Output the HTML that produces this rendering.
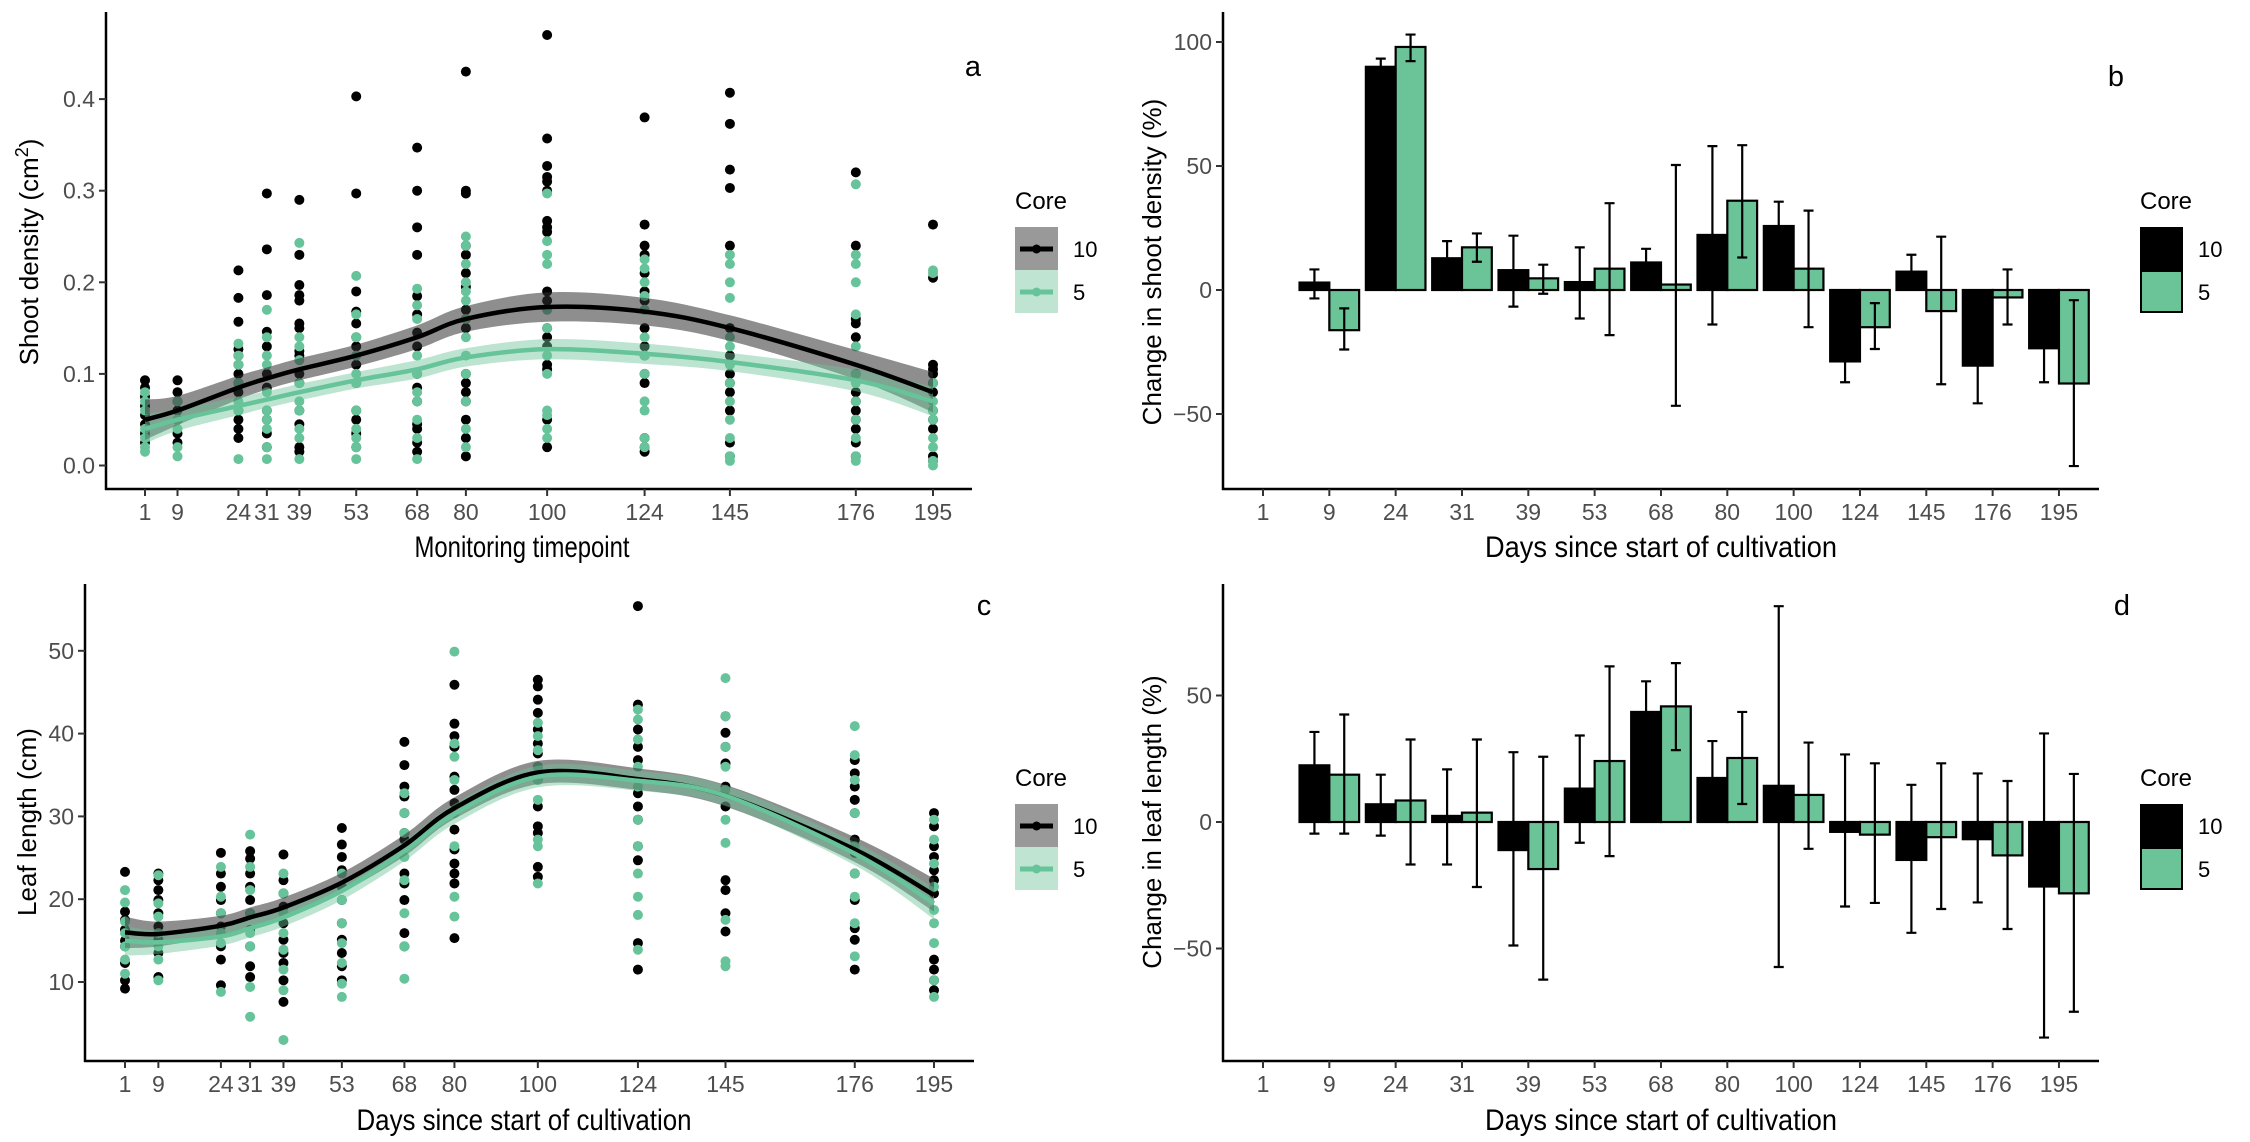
<!DOCTYPE html>
<html><head><meta charset="utf-8">
<style>
html,body{margin:0;padding:0;background:#fff;}
svg{display:block;}
.tick{font-family:"Liberation Sans Narrow","Liberation Sans",sans-serif;font-size:23px;fill:#4d4d4d;}
.title{font-family:"Liberation Sans Narrow","Liberation Sans",sans-serif;font-size:30px;fill:#000;}
.ytitle{font-family:"Liberation Sans",sans-serif;font-size:26px;fill:#000;}
.leg{font-family:"Liberation Sans",sans-serif;font-size:24px;fill:#000;}
.legl{font-family:"Liberation Sans",sans-serif;font-size:22px;fill:#000;}
.plab{font-family:"Liberation Sans",sans-serif;font-size:29px;fill:#000;}
</style></head>
<body>
<svg id="chart" width="2250" height="1142" viewBox="0 0 2250 1142" xmlns="http://www.w3.org/2000/svg"></svg>
<script>
// ---------- data ----------
const days = [1,9,24,31,39,53,68,80,100,124,145,176,195];
const aBlack = [
[.093,.085,.075,.065,.055,.045,.035,.025],
[.093,.08,.07,.06,.05,.035,.025],
[.213,.183,.157,.127,.12,.11,.1,.09,.08,.06,.05,.04,.03],
[.297,.236,.186,.146,.13,.1,.085,.06,.05,.035,.02],
[.29,.23,.197,.186,.18,.155,.15,.125,.12,.1,.09,.06,.045,.02,.015],
[.403,.297,.19,.168,.155,.14,.13,.11,.09,.06,.05,.035,.02],
[.347,.3,.26,.23,.185,.165,.145,.13,.1,.085,.07,.045,.04,.025,.015],
[.43,.3,.297,.24,.23,.21,.195,.17,.16,.15,.1,.09,.08,.07,.05,.03,.01],
[.47,.357,.327,.315,.31,.3,.267,.26,.255,.19,.18,.15,.14,.13,.11,.105,.05,.02],
[.38,.263,.24,.23,.21,.19,.18,.15,.13,.12,.1,.09,.03,.02,.015],
[.407,.373,.323,.303,.24,.15,.12,.1,.09,.08,.06,.025,.01],
[.32,.24,.16,.155,.14,.1,.08,.07,.06,.05,.04,.025,.01],
[.263,.205,.11,.105,.1,.09,.08,.06,.05,.04,.01,.005]];
const aGreen = [
[.08,.07,.06,.04,.03,.02,.015],
[.07,.05,.04,.02,.01],
[.133,.12,.11,.09,.07,.06,.007],
[.17,.14,.12,.11,.08,.06,.05,.04,.02,.007],
[.243,.14,.13,.115,.09,.07,.06,.04,.03,.007],
[.207,.165,.14,.12,.1,.09,.06,.04,.03,.02,.007],
[.193,.175,.16,.12,.1,.08,.07,.05,.03,.007],
[.25,.24,.22,.2,.19,.18,.16,.14,.12,.1,.07,.04,.02],
[.297,.245,.23,.22,.17,.15,.12,.1,.06,.055,.04,.03],
[.225,.215,.2,.185,.17,.14,.12,.1,.07,.06,.03,.02],
[.23,.22,.2,.183,.14,.13,.11,.09,.07,.05,.03,.01,.005],
[.307,.23,.22,.2,.165,.13,.1,.09,.07,.05,.03,.01,.005],
[.213,.21,.09,.07,.06,.05,.03,.02,.005,0]];
const aFitBlack = [.05,.06,.085,.095,.105,.12,.14,.16,.173,.168,.15,.11,.08];
const aFitGreen = [.04,.05,.065,.072,.08,.093,.105,.118,.127,.122,.113,.093,.07];
const aSeBlack = [.022,.016,.013,.012,.012,.012,.013,.014,.016,.015,.014,.016,.022];
const aSeGreen = [.016,.012,.01,.009,.009,.009,.01,.01,.011,.011,.01,.012,.016];
const cBlack = [
[23.3,18.5,17.5,16.3,15,14.3,12.3,10.2,9.2],
[23.1,22.3,21.1,19.9,18.3,16.7,15.1,13.5,10.6],
[25.6,23.1,21.5,19.9,18.3,16.7,14.3,12.7,9.6],
[25.8,24.9,23.1,21.5,19.9,18.3,16.3,14.3,11.9,10.6],
[25.4,22.3,20.7,19.1,17.1,15.1,13.5,12.3,10.2,7.6],
[28.6,26.6,25.1,23.5,21.5,19.9,17.1,15.1,13.5,11.9,10.2],
[39,36.2,33.6,32.4,30.4,28,27.2,23.1,21.9,19.9,15.9,14.3],
[45.9,41.2,39.7,38.4,34.8,33.2,31.6,28.4,26,24.3,23.1,21.9,15.3],
[46.5,45.7,44.1,42.5,40.5,38.8,37.6,36,34.4,31.2,28.8,28,23.9,22.7],
[55.4,43.5,40.5,38.4,36.8,32.8,31.2,29.6,26.4,24.7,14.7,11.5],
[42.1,40.1,38.4,36.4,33.6,31.2,22.3,21.1,18.3,16.1],
[36.8,35.2,33.6,32,30.4,27.2,25.6,23.1,19.9,16.5,15.1,11.5],
[30.4,28.8,26.4,25.1,23.5,22.3,20.7,12.7,11.5,10.2,9]];
const cGreen = [
[21.1,19.6,17.3,15.9,14.3,12.7,11],
[22.9,19.5,17.9,15.9,14.3,12.7,10.2],
[23.9,20.3,18.3,15.9,14.7,8.8],
[27.8,23.9,21.1,18.3,15.9,14.3,9.4,5.8],
[23.1,20.7,18.3,15.9,13.9,11.5,9,3],
[23.1,19.9,17.1,14.7,12.3,9.8,8.2],
[32.8,30.4,28,25.1,22.3,18.3,14.3,10.4],
[49.9,38.8,37.2,34.4,30.4,26.4,20.3,17.9],
[41.3,39.7,38,36,34.4,32,27.2,26.4,21.9],
[42.9,41.7,39.3,36,33.6,29.6,26.4,23.1,20.3,18.1,13.9],
[46.7,42.1,38.4,36,33.2,29.6,26.8,17.5,12.5,11.9],
[40.9,37.4,34.4,30.4,26.4,23.1,20.3,17.1,13.1],
[29.6,27.2,24.3,21.5,18.7,17.1,14.7,10.2,8.2]];
const cFitBlack = [16,15.8,16.8,17.8,19,22,26.5,31,35.3,34.5,32.5,26,20.5];
const cFitGreen = [15,14.8,15.5,16.5,17.8,21,25.8,30.3,34.8,34.3,32.5,25.5,19.5];
const cSeBlack = [1.9,1.5,1.2,1.2,1.2,1.2,1.3,1.3,1.4,1.3,1.3,1.5,2.0];
const cSeGreen = [1.8,1.4,1.1,1.1,1.1,1.1,1.2,1.2,1.3,1.2,1.2,1.4,1.9];
const bMean10 = [0,3,90,12.8,8,3.2,11.1,22.2,25.8,-28.8,7.4,-30.5,-23.5];
const bLo10   = [0,-3.4,87,6,-6.7,-11.5,5.6,-13.9,16,-37.2,0.6,-45.7,-37.2];
const bHi10   = [0,8.3,93.3,19.7,21.9,17.2,16.6,58,35.6,-20,14.2,-15,-10];
const bMean5  = [0,-16.2,98,17.2,4.7,8.6,2.2,36,8.6,-15,-8.5,-3,-37.7];
const bLo5    = [0,-24,92.3,11.4,-1.5,-18.2,-46.7,13.1,-15,-23.8,-38,-13.9,-71];
const bHi5    = [0,-7.4,103,22.8,10.2,35,50.4,58.4,32,-5.3,21.5,8.3,-4.1];
const dMean10 = [0,22.4,7,2.4,-11.1,13.2,43.5,17.4,14.3,-3.9,-15,-6.8,-25.5];
const dLo10   = [0,-4.6,-5.4,-16.8,-48.8,-8.2,31.4,2.7,-57.3,-33.4,-43.8,-31.8,-85.2];
const dHi10   = [0,35.6,18.7,20.8,27.6,34.2,55.6,32,85.3,26.7,14.7,19.2,35];
const dMean5  = [0,18.7,8.5,3.7,-18.6,24.1,45.7,25.3,10.7,-5,-6,-13.2,-28.2];
const dLo5    = [0,-4.6,-16.8,-25.7,-62.3,-13.5,28.4,7.1,-10.6,-32,-34.4,-42.3,-75];
const dHi5    = [0,42.5,32.6,32.6,25.8,61.5,62.8,43.5,31.4,23.2,23.2,16.2,19];

const aYTicks = [0,0.1,0.2,0.3,0.4];
const aYLabels = ["0.0","0.1","0.2","0.3","0.4"];
const cYTicks = [10,20,30,40,50];
const bYTicks = [-50,0,50,100];
const dYTicks = [-50,0,50];

const GREEN = "#6bc497";
const GREENPT = "#66c39a";
const NS = "http://www.w3.org/2000/svg";
const svg = document.getElementById("chart");
function el(tag, attrs, parent){
  const e = document.createElementNS(NS, tag);
  for (const k in attrs) e.setAttribute(k, attrs[k]);
  (parent||svg).appendChild(e);
  return e;
}
function txt(str, attrs, parent){ const t = el("text", attrs, parent); t.textContent = str; return t; }

const axA = {left:106, right:972, top:12, bottom:489, x:d=>145+(d-1)*(933-145)/194, y:v=>465.5-(v)*916};
const axC = {left:85, right:974, top:584, bottom:1061, x:d=>125+(d-1)*(934-125)/194, y:v=>982-(v-10)*8.28};
const axB = {left:1223, right:2099, top:12, bottom:489, x:i=>1263+i*66.33, y:v=>290-v*2.48};
const axD = {left:1223, right:2099, top:584, bottom:1061, x:i=>1263+i*66.33, y:v=>822-v*2.53};

function drawAxes(ax, name, yt, ylabels, xlabelsPos, xlabels){
  const g = el("g", {});
  
  
  el("line",{x1:ax.left,y1:ax.top,x2:ax.left,y2:ax.bottom+1,stroke:"#000","stroke-width":2.5},g);
  el("line",{x1:ax.left-1,y1:ax.bottom,x2:ax.right,y2:ax.bottom,stroke:"#000","stroke-width":2.5},g);
  yt.forEach((v,i)=>{
    const y = ax.y(v);
    el("line",{x1:ax.left-7,y1:y,x2:ax.left,y2:y,stroke:"#333","stroke-width":2},g);
    const t = txt(ylabels[i],{x:ax.left-11,y:y+8,"text-anchor":"end",class:"tick"},g);
    
    
  });
  xlabelsPos.forEach((x,i)=>{
    el("line",{x1:x,y1:ax.bottom,x2:x,y2:ax.bottom+7,stroke:"#333","stroke-width":2},g);
    const t = txt(xlabels[i],{x:x,y:ax.bottom+31,"text-anchor":"middle",class:"tick"},g);
    
    
  });
}

function smoothPath(pts){
  let d = "M"+pts[0][0]+","+pts[0][1];
  for (let i=0;i<pts.length-1;i++){
    const p0=pts[Math.max(0,i-1)], p1=pts[i], p2=pts[i+1], p3=pts[Math.min(pts.length-1,i+2)];
    const c1x=p1[0]+(p2[0]-p0[0])/6, c1y=p1[1]+(p2[1]-p0[1])/6;
    const c2x=p2[0]-(p3[0]-p1[0])/6, c2y=p2[1]-(p3[1]-p1[1])/6;
    d += " C"+c1x+","+c1y+" "+c2x+","+c2y+" "+p2[0]+","+p2[1];
  }
  return d;
}
function smoothCont(pts){ return smoothPath(pts).replace(/^M/,"L"); }

function drawScatter(ax, name, black, green, fb, fg, sb, sg){
  const g = el("g",{});
  
  
  days.forEach((d,i)=>{
    black[i].forEach(v=>{
      const c = el("circle",{cx:ax.x(d),cy:ax.y(v),r:5,fill:"#000"},g);
      
      
    });
  });
  days.forEach((d,i)=>{
    green[i].forEach(v=>{
      const c = el("circle",{cx:ax.x(d),cy:ax.y(v),r:5,fill:GREENPT},g);
      
      
    });
  });
  const series = [[fb,sb,"rgba(50,50,50,0.55)","#000","10"],[fg,sg,"rgba(107,196,151,0.45)",GREENPT,"5"]];
  series.forEach(s=>{
    const up = days.map((d,i)=>[ax.x(d),ax.y(s[0][i]+s[1][i])]);
    const lo = days.map((d,i)=>[ax.x(d),ax.y(s[0][i]-s[1][i])]).reverse();
    const band = el("path",{d:smoothPath(up)+" "+smoothCont(lo)+" Z",fill:s[2],stroke:"none"});
    
    
  });
  series.forEach(s=>{
    const pts = days.map((d,i)=>[ax.x(d),ax.y(s[0][i])]);
    const ln = el("path",{d:smoothPath(pts),fill:"none",stroke:s[3],"stroke-width":4.5});
    
    
  });
}

function drawBars(ax, name, m10, lo10, hi10, m5, lo5, hi5){
  const bw = 29.8;
  const g = el("g",{});
  
  
  const groups = [[m10,lo10,hi10,"#000",-1,"10"],[m5,lo5,hi5,GREEN,0,"5"]];
  days.forEach((d,i)=>{
    groups.forEach(s=>{
      const x0 = ax.x(i)+s[4]*bw;
      const y0 = ax.y(0), y1 = ax.y(s[0][i]);
      const r = el("rect",{x:x0,y:Math.min(y0,y1),width:bw,height:Math.abs(y1-y0),fill:s[3],stroke:"#000","stroke-width":2.2},g);
      
      
    });
  });
  days.forEach((d,i)=>{
    groups.forEach(s=>{
      if (s[1][i]===s[2][i]) return;
      const cx = ax.x(i)+s[4]*bw+bw/2;
      const e = el("path",{d:"M"+(cx-5)+","+ax.y(s[2][i])+" H"+(cx+5)+" M"+cx+","+ax.y(s[2][i])+" V"+ax.y(s[1][i])+" M"+(cx-5)+","+ax.y(s[1][i])+" H"+(cx+5),stroke:"#000","stroke-width":2.2,fill:"none"},g);
      
      
    });
  });
}

function legend(x, y, name, kind){
  const g = el("g",{});
  
  
  txt("Core",{x:x,y:y,class:"leg"},g);
  if (kind==="line"){
    el("rect",{x:x,y:y+18,width:43,height:43,fill:"#999"},g);
    el("rect",{x:x,y:y+61,width:43,height:43,fill:"#bfe5d2"},g);
    el("line",{x1:x+5,y1:y+40,x2:x+38,y2:y+40,stroke:"#000","stroke-width":5},g);
    el("circle",{cx:x+21.5,cy:y+40,r:4.5,fill:"#000"},g);
    el("line",{x1:x+5,y1:y+83,x2:x+38,y2:y+83,stroke:GREENPT,"stroke-width":5},g);
    el("circle",{cx:x+21.5,cy:y+83,r:4.5,fill:GREENPT},g);
  } else {
    el("rect",{x:x+1,y:y+19,width:41,height:41,fill:"#000",stroke:"#000","stroke-width":2},g);
    el("rect",{x:x+1,y:y+62,width:41,height:41,fill:GREEN,stroke:"#000","stroke-width":2},g);
  }
  const l1 = txt("10",{x:x+58,y:y+48,class:"legl"},g);
  
  
  const l2 = txt("5",{x:x+58,y:y+91,class:"legl"},g);
  
  
}

drawScatter(axA,"panel-a",aBlack,aGreen,aFitBlack,aFitGreen,aSeBlack,aSeGreen);
drawAxes(axA,"panel-a",aYTicks,aYLabels,days.map(d=>axA.x(d)),days.map(String));
drawScatter(axC,"panel-c",cBlack,cGreen,cFitBlack,cFitGreen,cSeBlack,cSeGreen);
drawAxes(axC,"panel-c",cYTicks,cYTicks.map(String),days.map(d=>axC.x(d)),days.map(String));
drawBars(axB,"panel-b",bMean10,bLo10,bHi10,bMean5,bLo5,bHi5);
drawAxes(axB,"panel-b",bYTicks,bYTicks.map(v=>v<0?"\u2212"+(-v):String(v)),days.map((d,i)=>axB.x(i)),days.map(String));
drawBars(axD,"panel-d",dMean10,dLo10,dHi10,dMean5,dLo5,dHi5);
drawAxes(axD,"panel-d",dYTicks,dYTicks.map(v=>v<0?"\u2212"+(-v):String(v)),days.map((d,i)=>axD.x(i)),days.map(String));

legend(1015,209,"panel-a","line");
legend(1015,786,"panel-c","line");
legend(2140,209,"panel-b","bar");
legend(2140,786,"panel-d","bar");
</script>
<script>
(function(){
  const svg = document.getElementById("chart");
  const NS = "http://www.w3.org/2000/svg";
  function t(str, x, y, cls, name, rot, len){
    const e = document.createElementNS(NS,"text");
    e.setAttribute("x",x); e.setAttribute("y",y);
    e.setAttribute("class",cls); e.setAttribute("text-anchor","middle");
    if (rot) e.setAttribute("transform","rotate(-90 "+x+" "+y+")");
    if (len){ e.setAttribute("textLength",len); e.setAttribute("lengthAdjust","spacingAndGlyphs"); }
    e.textContent = str;
    
    
    svg.appendChild(e);
    return e;
  }
  t("Monitoring timepoint",522,557,"title","panel-a-x-axis-title",false,215);
  t("Days since start of cultivation",524,1130,"title","panel-c-x-axis-title",false,335);
  t("Days since start of cultivation",1661,557,"title","panel-b-x-axis-title",false,352);
  t("Days since start of cultivation",1661,1130,"title","panel-d-x-axis-title",false,352);
  const ya = t("",38,252,"ytitle","panel-a-y-axis-title",true);
  ya.textContent = "Shoot density (cm";
  const sup = document.createElementNS(NS,"tspan");
  sup.setAttribute("dy","-10"); sup.setAttribute("font-size","18"); sup.textContent="2";
  ya.appendChild(sup);
  const cl = document.createElementNS(NS,"tspan");
  cl.setAttribute("dy","10"); cl.textContent=")";
  ya.appendChild(cl);
  t("Leaf length (cm)",36,822,"ytitle","panel-c-y-axis-title",true);
  t("Change in shoot density (%)",1161,262,"ytitle","panel-b-y-axis-title",true);
  t("Change in leaf length (%)",1161,822,"ytitle","panel-d-y-axis-title",true);
  t("a",973,76,"plab","panel-label-a");
  t("b",2116,86,"plab","panel-label-b");
  t("c",984,615,"plab","panel-label-c");
  t("d",2122,615,"plab","panel-label-d");
})();
</script>
</body></html>
